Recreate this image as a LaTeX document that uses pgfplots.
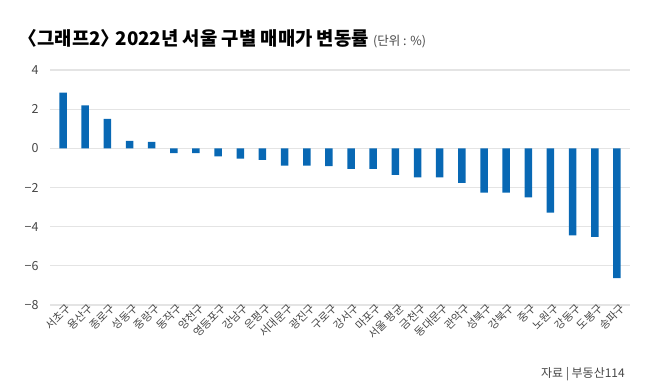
\documentclass[border=0pt]{standalone}
\usepackage{pgfplots}
\pgfplotsset{compat=1.18}
\usepackage{fontspec}
\setmainfont{Noto Sans CJK KR}
\definecolor{barblue}{RGB}{8,104,180}
\definecolor{gridgray}{RGB}{228,228,228}
\definecolor{ticktxt}{RGB}{70,70,70}
\pgfplotstableread{
x v
0 2.84
1 2.19
2 1.50
3 0.38
4 0.33
5 -0.24
6 -0.24
7 -0.41
8 -0.53
9 -0.59
10 -0.88
11 -0.88
12 -0.91
13 -1.05
14 -1.05
15 -1.36
16 -1.48
17 -1.48
18 -1.76
19 -2.26
20 -2.26
21 -2.50
22 -3.28
23 -4.45
24 -4.52
25 -6.63
}\data
\begin{document}
\begin{tikzpicture}[x=1pt,y=1pt]
\useasboundingbox (0,0) rectangle (650,390);
\node[anchor=base west,inner sep=0pt,font=\fontsize{18.8}{20}\selectfont\bfseries] at (28,344) {\kern-0.5em〈그래프2〉\kern-0.45em{} 2022년 서울 구별 매매가 변동률 {\mdseries\fontsize{12.5}{13}\selectfont\color{ticktxt}(단위 : \%)}};
\begin{axis}[
  at={(50pt,85pt)}, anchor=south west,
  scale only axis, width=580pt, height=235pt,
  xmin=-0.59, xmax=25.59, ymin=-8, ymax=4,
  axis line style={draw=none},
  ytick={-8,-6,-4,-2,0,2,4},
  yticklabels={−8,−6,−4,−2,0,2,4},
  yticklabel style={font=\fontsize{12.5}{12}\selectfont, text=ticktxt, xshift=-8pt},
  ymajorgrids, grid style={gridgray, line width=1.1pt},
  major tick length=0pt,
  xtick=data,
  xticklabels={서초구,용산구,종로구,성동구,중랑구,동작구,양천구,영등포구,강남구,은평구,서대문구,광진구,구로구,강서구,마포구,서울 평균,금천구,동대문구,관악구,성북구,강북구,중구,노원구,강동구,도봉구,송파구},
  xticklabel style={rotate=45, anchor=east, font=\fontsize{11}{11}\selectfont, text=ticktxt, inner sep=0.5pt, xshift=4pt, yshift=-5pt},
  ybar, bar width=7.5pt,
  clip=false,
]
\addplot[fill=barblue, draw=none] table[x=x,y=v] {\data};
\end{axis}
\node[anchor=east,inner sep=0pt,font=\fontsize{12}{12}\selectfont,text=ticktxt] at (625,16) {자료 | 부동산114};
\end{tikzpicture}
\end{document}
